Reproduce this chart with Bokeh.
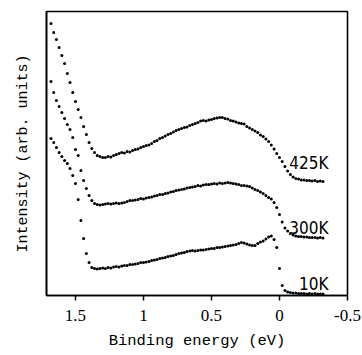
import numpy as np
from bokeh.plotting import figure
from bokeh.models import Range1d, FixedTicker, ColumnDataSource
from bokeh.core.properties import value
from bokeh.embed import file_html
from bokeh.resources import INLINE

# Binding energy grid (eV), 1.68 .. -0.32 in 0.02 eV steps
energy = np.round(np.linspace(1.68, -0.32, 101), 3)

# Intensities (arb. units)
i425 = [272, 263, 256, 248, 240, 232, 222, 213, 203, 194,
        186, 178, 169, 161, 153, 147, 143, 140, 139, 138,
        138, 139, 138.5, 140, 141, 142, 143, 142.5, 144, 143.5,
        145, 146, 146.5, 148, 149, 150, 150.5, 152, 154, 155,
        157, 158, 159.5, 161, 162, 163.5, 165, 166, 167, 168,
        168.5, 170, 171, 172, 173, 174.5, 175, 174.5, 175.5, 176,
        177, 177.5, 178, 178, 177, 176.5, 175, 174.5, 173.5, 172.5,
        172, 171.5, 169, 167.5, 166, 164.5, 163, 160.5, 159, 156.5,
        154, 150.5, 146.5, 142, 138, 134, 129, 124.5, 121, 118.5,
        117, 116.5, 115.5, 115.5, 115, 115, 114.5, 115, 114, 114.5,
        114]
i300 = [214, 203, 195, 189, 183, 177, 171, 166, 158, 146,
        140, 125, 115, 107, 100, 95, 92, 91, 90.5, 91,
        91.5, 92, 91.5, 92, 92.5, 92, 92.5, 93, 94, 95,
        95, 95.5, 96, 97, 96.5, 97.5, 98, 98.5, 99.5, 100,
        101, 101, 102, 102.5, 103.5, 104, 105, 105.5, 106, 106.5,
        107.5, 108, 108.5, 109, 110, 109.5, 110.5, 111, 111, 111.5,
        112, 111.5, 112.5, 112, 112.5, 113, 112.5, 112, 111.5, 111,
        110, 110, 109.5, 109, 107.5, 106, 105, 103.5, 102, 100,
        98, 96.5, 93, 88, 81, 73.5, 67.5, 64.5, 62, 60.5,
        59.5, 59, 59, 58.5, 58.5, 58, 58, 58, 57.5, 58,
        57.5]
i10 = [157, 153, 148, 143, 139, 135, 132, 127, 120, 112,
       96, 75, 57, 42, 33, 28, 27, 26.5, 27, 27.5,
       27, 28, 27.5, 28.5, 29, 28.5, 29.5, 30, 30, 31,
       31, 31.5, 32, 33, 33, 33.5, 34, 35, 35.5, 36,
       37, 37.5, 38, 39, 39.5, 40, 41, 42, 42.5, 43,
       44, 44.5, 45, 44.5, 45, 45.5, 45.5, 46, 46.5, 47,
       47, 48, 48, 48.5, 49, 49.5, 50, 50.5, 51, 52,
       53, 52.5, 51.5, 50.5, 50, 50, 52, 53.5, 54.5, 56.5,
       58.5, 59.5, 56, 48, 27, 10, 5, 3.5, 3, 2.5,
       2.5, 2, 2, 2, 1.5, 2, 1.5, 2, 1.5, 1.5,
       1.5]

labels = ["425K", "300K", "10K"]
label_x = [-0.36, -0.36, -0.36]
label_y = [133, 68, 12]

x_ticks = [1.5, 1, 0.5, 0, -0.5]
x_tick_labels = {1.5: "1.5", 1: "1", 0.5: "0.5", 0: "0", -0.5: "-0.5"}

p = figure(width=362, height=355, output_backend="svg", toolbar_location=None,
           x_range=Range1d(1.713, -0.5), y_range=Range1d(0, 284),
           min_border_left=46, min_border_right=15, min_border_top=11,
           min_border_bottom=60)
p.background_fill_color = "white"
p.border_fill_color = "white"
p.outline_line_color = "black"
p.outline_line_width = 1.6
p.grid.visible = False

for ys in (i425, i300, i10):
    src = ColumnDataSource(dict(x=energy, y=ys))
    p.scatter("x", "y", source=src, size=3.0, color="black", line_color=None)

p.text(x=label_x, y=label_y, text=labels, text_align="right",
       text_baseline="alphabetic",
       text_font=value("'DejaVu Sans Condensed', 'Liberation Sans', sans-serif"),
       text_font_size="17px", text_color="black")

xa = p.xaxis[0]
xa.ticker = FixedTicker(ticks=x_ticks)
xa.major_label_overrides = x_tick_labels
xa.minor_tick_line_color = None
xa.major_tick_out = 5
xa.major_tick_in = 0
xa.major_tick_line_width = 1.5
xa.axis_line_width = 1.6
xa.major_label_standoff = 9
xa.major_label_text_font = "Liberation Serif"
xa.major_label_text_font_size = "17px"
xa.major_label_text_color = "black"
xa.axis_label = "Binding energy (eV)"
xa.axis_label_text_font = "Liberation Mono"
xa.axis_label_text_font_size = "15.5px"
xa.axis_label_text_font_style = "normal"
xa.axis_label_text_color = "black"
xa.axis_label_standoff = 8

ya = p.yaxis[0]
ya.ticker = FixedTicker(ticks=[])
ya.major_label_text_font_size = "0px"
ya.major_tick_out = 0
ya.minor_tick_line_color = None
ya.axis_line_width = 1.6
ya.axis_label = "Intensity (arb. units)"
ya.axis_label_text_font = "Liberation Mono"
ya.axis_label_text_font_size = "15px"
ya.axis_label_text_font_style = "normal"
ya.axis_label_text_color = "black"
ya.axis_label_standoff = 15

open("out.html", "w").write(file_html(p, INLINE))
